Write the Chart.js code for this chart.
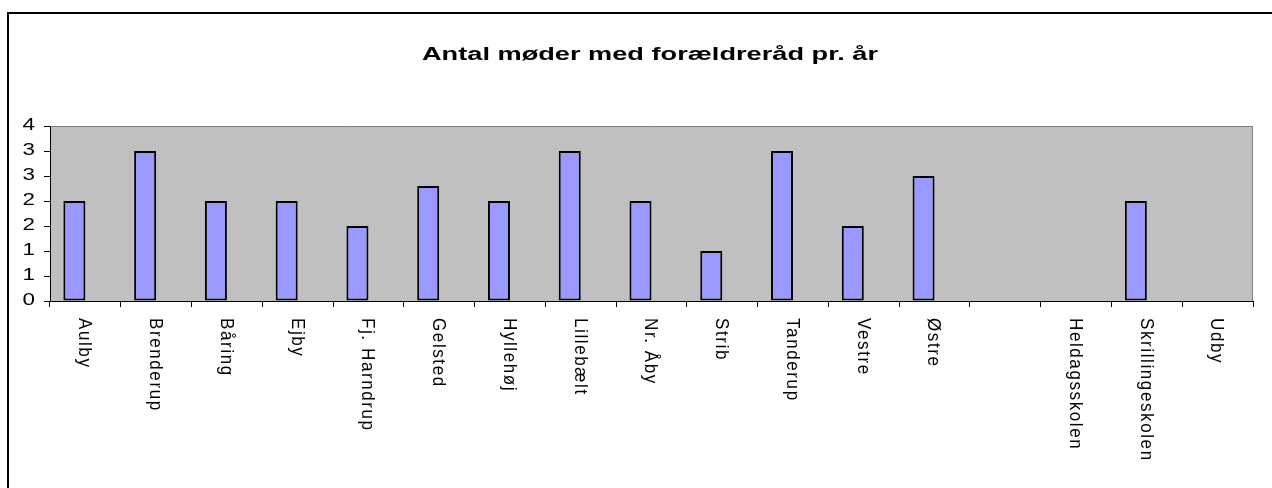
<!DOCTYPE html>
<html><head><meta charset="utf-8">
<script src="https://cdn.jsdelivr.net/npm/chart.js@4/dist/chart.umd.min.js"></script>
<style>html,body{margin:0;padding:0;background:#fff}#wrap{width:1272px;height:488px;position:relative}</style>
</head><body><div id="wrap"><canvas id="c" width="1272" height="488"></canvas></div>
<script>
const chartTitle = 'Antal møder med forældreråd pr. år';
const categories = ['Aulby','Brenderup','Båring','Ejby','Fj. Harndrup','Gelsted','Hyllehøj','Lillebælt','Nr. Åby','Strib','Tanderup','Vestre','Østre','','Heldagsskolen','Skrillingeskolen','Udby'];
const meetings = [2,3,2,2,1.5,2.3,2,3,2,1,3,1.5,2.5,null,null,2,null];
const emptySeries = [null,null,null,null,null,null,null,null,null,null,null,null,null,null,null,null,null];
const yMin = 0, yMax = 3.5, yStep = 0.5;

const FONT = "'Liberation Sans', Arial, sans-serif";

const plotBg = {
  id: 'plotBg',
  beforeDraw(chart) {
    const {ctx, chartArea: a} = chart;
    ctx.save();
    ctx.fillStyle = '#C0C0C0';
    ctx.fillRect(a.left, a.top, a.right - a.left, a.bottom - a.top);
    ctx.strokeStyle = '#808080';
    ctx.lineWidth = 1;
    ctx.beginPath();
    ctx.moveTo(a.left, a.top + 0.5);
    ctx.lineTo(a.right - 0.5, a.top + 0.5);
    ctx.lineTo(a.right - 0.5, a.bottom);
    ctx.stroke();
    ctx.restore();
  }
};

const frame = {
  id: 'frame',
  afterDraw(chart) {
    const {ctx, width, height} = chart;
    ctx.save();
    ctx.strokeStyle = '#000';
    ctx.lineWidth = 2;
    ctx.beginPath();
    ctx.moveTo(8, height);
    ctx.lineTo(8, 13);
    ctx.lineTo(width, 13);
    ctx.stroke();
    ctx.restore();
  }
};

const titlePlugin = {
  id: 'titleText',
  afterDraw(chart) {
    const {ctx} = chart;
    ctx.save();
    ctx.font = 'bold 18px ' + FONT;
    ctx.fillStyle = '#000';
    const w = ctx.measureText(chartTitle).width;
    const sx = 456 / w;
    ctx.translate(650, 60);
    ctx.scale(sx, 1);
    ctx.textAlign = 'center';
    ctx.textBaseline = 'alphabetic';
    ctx.fillText(chartTitle, 0, 0);
    ctx.restore();
  }
};

const yLabels = {
  id: 'yLabels',
  afterDraw(chart) {
    const {ctx} = chart;
    const ys = chart.scales.y;
    ctx.save();
    ctx.font = '16px ' + FONT;
    ctx.fillStyle = '#000';
    ctx.textAlign = 'right';
    ctx.textBaseline = 'middle';
    ys.ticks.forEach(t => {
      const y = ys.getPixelForValue(t.value);
      ctx.save();
      ctx.translate(ys.right - 15, y);
      ctx.scale(1.4, 1);
      ctx.fillText(String(Math.round(t.value)), 0, 0);
      ctx.restore();
    });
    ctx.restore();
  }
};

const xLabels = {
  id: 'xLabels',
  afterDraw(chart) {
    const {ctx} = chart;
    const xs = chart.scales.x;
    ctx.save();
    ctx.font = '17px ' + FONT;
    ctx.fillStyle = '#000';
    ctx.textAlign = 'left';
    ctx.textBaseline = 'middle';
    try { ctx.letterSpacing = '1.6px'; } catch (e) {}
    categories.forEach((lab, i) => {
      if (!lab) return;
      const x = xs.getPixelForValue(i);
      ctx.save();
      ctx.translate(x - 1, xs.top + 17);
      ctx.scale(1.1, 1);
      ctx.rotate(Math.PI / 2);
      ctx.fillText(lab, 0, 0);
      ctx.restore();
    });
    ctx.restore();
  }
};

new Chart(document.getElementById('c'), {
  type: 'bar',
  data: {
    labels: categories,
    datasets: [
      { data: meetings, backgroundColor: '#9999FF', borderColor: '#000', borderWidth: 2, borderSkipped: false },
      { data: emptySeries, backgroundColor: '#993366', borderColor: '#000', borderWidth: 2 }
    ]
  },
  options: {
    responsive: false,
    animation: false,
    devicePixelRatio: 1,
    layout: { padding: { left: 10, top: 126, right: 19, bottom: 0 } },
    plugins: { legend: { display: false }, tooltip: { enabled: false }, title: { display: false } },
    datasets: { bar: { categoryPercentage: 0.622, barPercentage: 1.0 } },
    scales: {
      x: {
        grid: { offset: true, drawOnChartArea: false, tickLength: 6, color: '#000', lineWidth: 1 },
        border: { color: '#000', width: 1 },
        ticks: { display: false },
        afterFit(s) { s.height = 187; }
      },
      y: {
        min: yMin, max: yMax,
        grid: { drawOnChartArea: false, tickLength: 6, color: '#000', lineWidth: 1 },
        border: { color: '#000', width: 1 },
        ticks: { stepSize: yStep, display: false },
        afterFit(s) { s.width = 40; }
      }
    }
  },
  plugins: [plotBg, frame, titlePlugin, yLabels, xLabels]
});
</script>
</body></html>
